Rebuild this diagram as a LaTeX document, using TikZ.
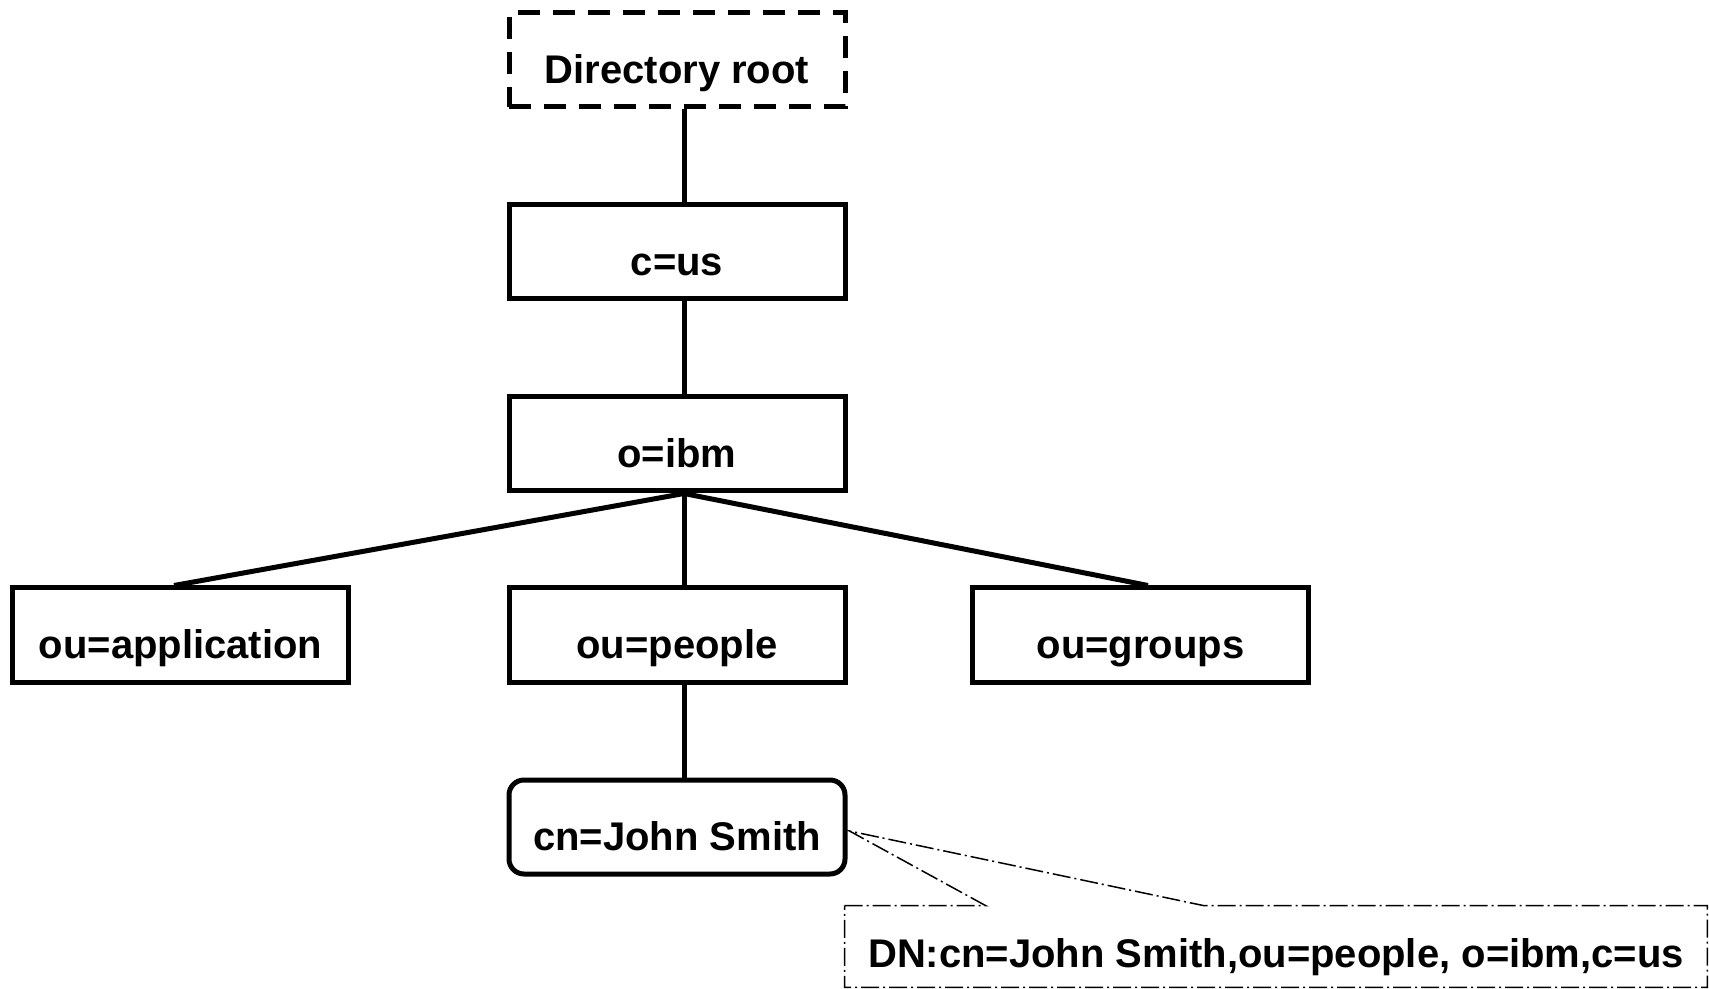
\documentclass[tikz,border=0pt]{standalone}
\usepackage{fontspec}
\setmainfont{Liberation Sans}
\usetikzlibrary{positioning}

\begin{document}
\begin{tikzpicture}[
      x=0.5pt, y=-0.5pt,
      %style for tree lines
      lnk/.style={line width=2.5pt},
      % style for entry boxes
      ent/.style={rectangle, draw=black, line width=2.5pt, minimum width=168pt,
        minimum height=47pt, inner sep=0pt, text height=23.4pt, text depth=0pt,
        font=\fontsize{20}{24}\selectfont\bfseries},
      % dashed box for the root
      rt/.style={ent, dash pattern=on 11pt off 6.5pt},
      % rounded box for the leaf entry
      lf/.style={ent, rounded corners=7.5pt},
      % text of the callout
      nt/.style={rectangle, minimum width=431pt, minimum height=40.5pt,
        inner sep=0pt, text height=20.7pt, text depth=0pt,
        font=\fontsize{20}{24}\selectfont\bfseries},
      % border of the callout
      cll/.style={line width=0.75pt, dash pattern=on 9pt off 2pt on 1pt off 2pt}]

      \useasboundingbox (0,0) rectangle (1709,989);

      \node[rt](dirroot) at (677,60) {Directory root};
      \node[ent](cus) at (677,252) {c=us};
      \node[ent](oibm) at (677,444) {o=ibm};
      \node[ent](ouapp) at (180.5,635) {ou=application};
      \node[ent](oupeople) at (677,635) {ou=people};
      \node[ent](ougroups) at (1140.5,635) {ou=groups};
      \node[lf](cnjohn) at (677,827) {cn=John Smith};
      \node[nt](dnnote) at (1276,946.5) {DN:cn=John Smith,ou=people, o=ibm,c=us};

      % tree lines
      \draw[lnk] ([xshift=3.5pt]dirroot.south) -- ([xshift=3.5pt]cus.north);
      \draw[lnk] ([xshift=3.5pt]cus.south) -- ([xshift=3.5pt]oibm.north);
      \draw[lnk] ([xshift=3.5pt]oibm.south) -- ([xshift=-3.25pt]ouapp.north);
      \draw[lnk] ([xshift=3.5pt]oibm.south) -- ([xshift=3.5pt]oupeople.north);
      \draw[lnk] ([xshift=3.5pt]oibm.south) -- ([xshift=3.75pt]ougroups.north);
      \draw[lnk] ([xshift=3.5pt]oupeople.south) -- ([xshift=3.5pt]cnjohn.north);

      % callout
      \coordinate (tip) at ([xshift=1pt,yshift=-2pt]cnjohn.east);
      \draw[cll] (dnnote.north west) -- ([xshift=70.5pt]dnnote.north west) -- (tip)
        -- ([xshift=179.5pt]dnnote.north west) -- (dnnote.north east)
        -- (dnnote.south east) -- (dnnote.south west) -- cycle;

\end{tikzpicture}
\end{document}
